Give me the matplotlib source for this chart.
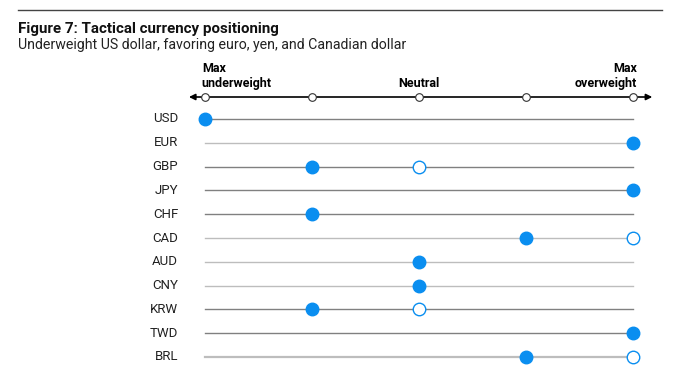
import matplotlib.pyplot as plt
import numpy as np

plt.rcParams['font.family'] = ['Roboto', 'DejaVu Sans']

currencies = ["USD", "EUR", "GBP", "JPY", "CHF", "CAD", "AUD", "CNY", "KRW", "TWD", "BRL"]
# -2 = max underweight, 0 = neutral, 2 = max overweight
current = [-2, 2, -1, 2, -1, 1, 0, 0, -1, 2, 1]
previous = [None, None, 0, None, None, 2, None, None, 0, None, 2]
scale_ticks = [-2, -1, 0, 1, 2]

W, H = 679, 382
fig = plt.figure(figsize=(W / 100, H / 100), dpi=100)

# axes placed so that -2..2 spans x pixels 205..633, rows span y pixels 119..357
x0, x1 = 205, 633
y0, y1 = 119, 357
ax = fig.add_axes([x0 / W, 1 - y1 / H, (x1 - x0) / W, (y1 - y0) / H])
ax.set_xlim(-2, 2)
ax.set_ylim(len(currencies) - 1, 0)
ax.axis("off")

blue = "#0a8ef0"
dark_rows = ["USD", "GBP", "JPY", "CHF", "KRW", "TWD"]
for i, c in enumerate(currencies):
    col = "#808080" if c in dark_rows else "#bdbdbd"
    lw = 1.6 if c == "BRL" else 1.0
    ax.plot([-2, 2], [i, i], color=col, lw=lw, zorder=1, clip_on=False)
    ax.text(-2.25, i, c, ha="right", va="center", fontsize=9.5, color="#222222")
    if previous[i] is not None:
        ax.plot(previous[i], i, "o", ms=9, mfc="white", mec=blue, mew=1.0,
                zorder=3, clip_on=False)
    ax.plot(current[i], i, "o", ms=9, mfc=blue, mec=blue, zorder=4, clip_on=False)

# scale axis on top
row_h = (y1 - y0) / (len(currencies) - 1)
ya = -(y0 - 97) / row_h
ax.annotate("", xy=(-2.15, ya), xytext=(0, ya),
            arrowprops=dict(arrowstyle="-|>", color="black", lw=1.2,
                            mutation_scale=9, shrinkA=0, shrinkB=0),
            annotation_clip=False)
ax.annotate("", xy=(2.18, ya), xytext=(0, ya),
            arrowprops=dict(arrowstyle="-|>", color="black", lw=1.2,
                            mutation_scale=9, shrinkA=0, shrinkB=0),
            annotation_clip=False)
ax.plot(scale_ticks, [ya] * len(scale_ticks), "o", ms=5.5, mfc="white",
        mec="#333333", mew=0.8, zorder=5, clip_on=False)

lab_y = ya - 0.3
ax.text(-2.03, lab_y, "Max\nunderweight", ha="left", va="bottom",
        fontsize=9, fontweight="bold", linespacing=1.2)
ax.text(0, lab_y, "Neutral", ha="center", va="bottom", fontsize=9, fontweight="bold")
ax.text(2.04, lab_y, "Max\noverweight", ha="right", va="bottom",
        fontsize=9, fontweight="bold", linespacing=1.2, multialignment="right")

# header
fig.add_artist(plt.Line2D([18 / W, 662 / W], [1 - 10 / H, 1 - 10 / H],
                          color="#444444", lw=1.0))
fig.text(18 / W, 1 - 33 / H, "Figure 7: Tactical currency positioning",
         fontsize=10.9, fontweight="bold", va="baseline", color="#111111")
fig.text(18 / W, 1 - 49 / H, "Underweight US dollar, favoring euro, yen, and Canadian dollar",
         fontsize=10.2, va="baseline", color="#222222")

fig.savefig("out.png", dpi=100)
